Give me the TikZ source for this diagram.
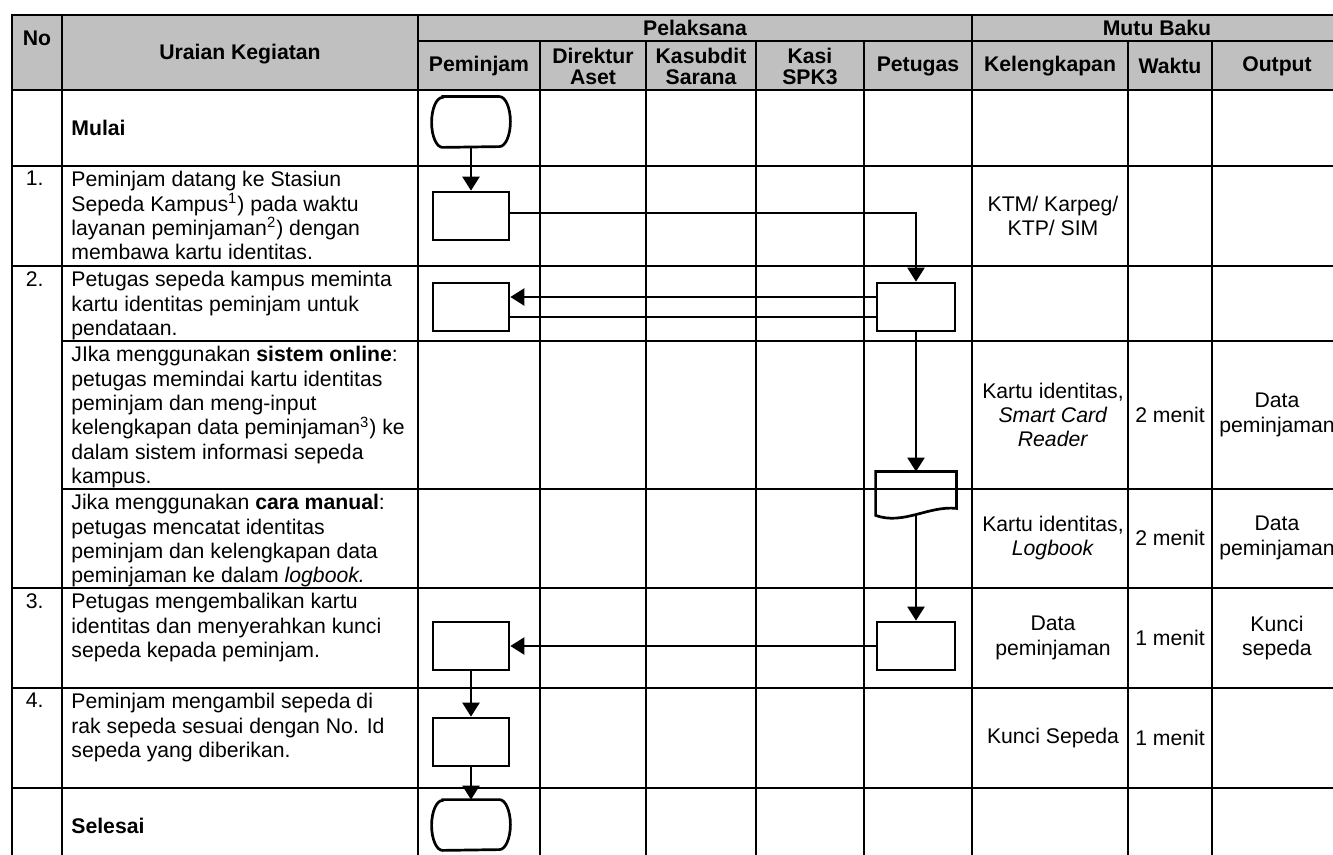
\documentclass[tikz,border=0pt]{standalone}
\usepackage{fontspec}
\setmainfont{Liberation Sans}
\usetikzlibrary{arrows.meta,calc}
\definecolor{headgray}{RGB}{192,192,192}

\begin{document}
\begin{tikzpicture}[x=0.5pt,y=-0.5pt,
    rule/.style={line width=1pt,line cap=rect},
    procbox/.style={draw,line width=1.35pt,minimum width=38pt,minimum height=24pt,inner sep=0pt},
    termbox/.style={minimum width=39pt,minimum height=25pt,inner sep=0pt},
    flow/.style={line width=1.2pt,-{Triangle[length=7pt,width=8.5pt]}},
    link/.style={line width=1.2pt},
    celltext/.style={font=\fontsize{10.6pt}{12.2pt}\selectfont,inner sep=0pt,align=center},
    headtext/.style={font=\fontsize{10.6pt}{10.5pt}\selectfont\bfseries,inner sep=0pt,align=center},
    desctext/.style={celltext,align=left,anchor=north west},
    numtext/.style={celltext,anchor=north east}]

    \useasboundingbox (0,0) rectangle (1333,855);
    \clip (0,0) rectangle (1333,855);

    % header shading
    \fill[headgray] (12,15) rectangle (1342,90);

    % table rules
    \foreach \y in {15,90,166,266,588,688,788}
        \draw[rule] (12,\y) -- (1342,\y);
    \foreach \y in {341,489}
        \draw[rule] (62,\y) -- (1342,\y);
    \draw[rule] (418,41) -- (1342,41);
    \foreach \x in {12,62,418,972,1342}
        \draw[rule] (\x,15) -- (\x,880);
    \foreach \x in {540,646,756,864,1128,1212}
        \draw[rule] (\x,41) -- (\x,880);

    % header
    \node[headtext] (hno) at (37,38) {No};
    \node[headtext] (huraian) at (240,54) {Uraian Kegiatan};
    \node[headtext] (hpelaksana) at (695,28) {Pelaksana};
    \node[headtext] (hmutu) at (1157,28) {Mutu Baku};
    \node[headtext] (hpeminjam) at (479,66) {Peminjam};
    \node[headtext] (hdirektur) at (593,66) {Direktur\\Aset};
    \node[headtext] (hkasubdit) at (701,66) {Kasubdit\\Sarana};
    \node[headtext] (hkasi) at (810,66) {Kasi\\SPK3};
    \node[headtext] (hpetugas) at (918,66) {Petugas};
    \node[headtext] (hkelengkapan) at (1050,66) {Kelengkapan};
    \node[headtext] (hwaktu) at (1170,66) {Waktu};
    \node[headtext] (houtput) at (1277,66) {Output};

    % kegiatan
    \node[celltext,anchor=west] (tmulai) at (71,128) {\textbf{Mulai}};
    \node[numtext] (n1) at (44,171) {1.};
    \node[desctext] (t1) at (71,171) {Peminjam datang ke Stasiun\\Sepeda Kampus\textsuperscript{1}) pada waktu\\layanan peminjaman\textsuperscript{2}) dengan\\membawa kartu identitas.};
    \node[numtext] (n2) at (44,271) {2.};
    \node[desctext] (t2) at (71,271) {Petugas sepeda kampus meminta\\kartu identitas peminjam untuk\\pendataan.};
    \node[desctext] (t2a) at (71,346) {JIka menggunakan \textbf{sistem online}:\\petugas memindai kartu identitas\\peminjam dan meng-input\\kelengkapan data peminjaman\textsuperscript{3}) ke\\dalam sistem informasi sepeda\\kampus.};
    \node[desctext] (t2b) at (71,494) {Jika menggunakan \textbf{cara manual}:\\petugas mencatat identitas\\peminjam dan kelengkapan data\\peminjaman ke dalam \textit{logbook.}};
    \node[numtext] (n3) at (44,593) {3.};
    \node[desctext] (t3) at (71,593) {Petugas mengembalikan kartu\\identitas dan menyerahkan kunci\\sepeda kepada peminjam.};
    \node[numtext] (n4) at (44,693) {4.};
    \node[desctext] (t4) at (71,693) {Peminjam mengambil sepeda di\\rak sepeda sesuai dengan No. Id\\sepeda yang diberikan.};
    \node[celltext,anchor=west] (tselesai) at (71,826) {\textbf{Selesai}};

    % mutu baku
    \node[celltext] (k1) at (1053,216) {KTM/ Karpeg/\\KTP/ SIM};
    \node[celltext] (k2a) at (1053,415) {Kartu identitas,\\\textit{Smart Card}\\\textit{Reader}};
    \node[celltext] (w2a) at (1170,415) {2 menit};
    \node[celltext] (o2a) at (1277,415) {Data\\peminjaman};
    \node[celltext] (k2b) at (1053,538) {Kartu identitas,\\\textit{Logbook}};
    \node[celltext] (w2b) at (1170,538) {2 menit};
    \node[celltext] (o2b) at (1277,538) {Data\\peminjaman};
    \node[celltext] (k3) at (1053,638) {Data\\peminjaman};
    \node[celltext] (w3) at (1170,638) {1 menit};
    \node[celltext] (o3) at (1277,638) {Kunci\\sepeda};
    \node[celltext] (k4) at (1053,738) {Kunci Sepeda};
    \node[celltext] (w4) at (1170,738) {1 menit};

    % flow symbols
    \node[termbox] (mulai) at (471,122) {};
    \node[procbox] (s1) at (471,216) {};
    \node[procbox] (s2a) at (471,307) {};
    \node[procbox,minimum width=39pt] (s2p) at (916,307) {};
    \node[minimum width=40pt,minimum height=21.5pt,inner sep=0pt] (doc) at (916,493.5) {};
    \draw[line width=1.35pt] (doc.south west) -- (doc.north west) -- (doc.north east)
        -- ($(doc.south east)+(0,-7)$)
        .. controls ($(doc.south)+(13,-10)$) and ($(doc.south)+(-13,10)$) .. (doc.south west) -- cycle;
    \node[procbox,minimum width=39pt] (s3p) at (916,646) {};
    \node[procbox] (s3a) at (471,646) {};
    \node[procbox] (s4) at (471,742) {};
    \node[termbox] (selesai) at (471,825) {};

    % terminator outlines
    \foreach \t in {mulai,selesai}
        \draw[line width=1.35pt] ([xshift=5.5pt]\t.north west) -- ([xshift=-5.5pt]\t.north east)
            arc[start angle=90,end angle=-90,x radius=5.5pt,y radius=12.5pt]
            -- ([xshift=5.5pt]\t.south west)
            arc[start angle=270,end angle=90,x radius=5.5pt,y radius=12.5pt] -- cycle;

    % connectors
    \draw[flow] (mulai) -- (s1);
    \draw[flow] ([yshift=1.5pt]s1.east) -| (s2p.north);
    \draw[flow] ([yshift=5pt]s2p.west) -- ([yshift=5pt]s2a.east);
    \draw[link] ([yshift=-5pt]s2a.east) -- ([yshift=-5pt]s2p.west);
    \draw[flow] (s2p.south) -- (doc.north);
    \draw[flow] (doc.south) -- (s3p.north);
    \draw[flow] (s3p.west) -- (s3a.east);
    \draw[flow] (s3a) -- (s4);
    \draw[flow] (s4) -- (selesai);
\end{tikzpicture}
\end{document}
